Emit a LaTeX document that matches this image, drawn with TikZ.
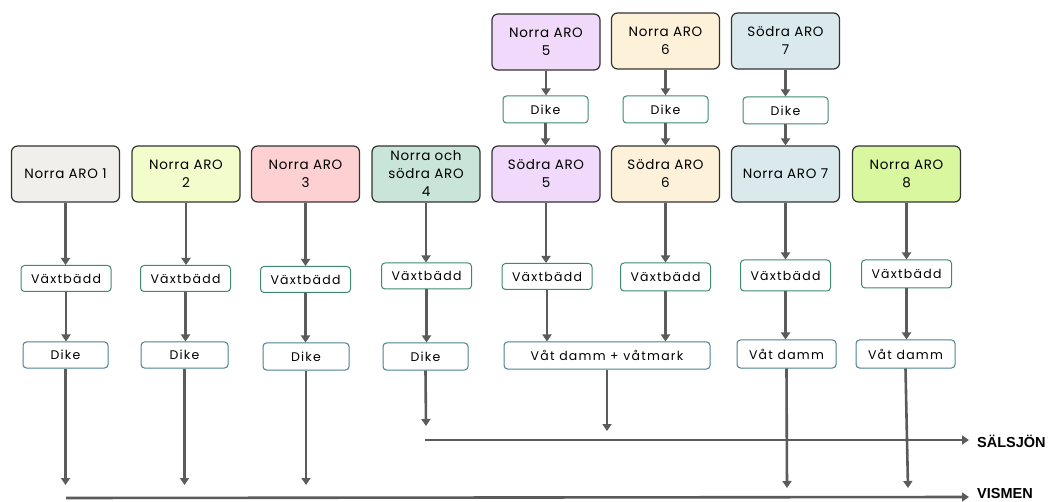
\documentclass[tikz,border=0pt]{standalone}
\usepackage{fontspec}
\setmainfont{Poppins}
\newfontfamily\bigfont[LetterSpace=5]{Poppins}
\newfontfamily\smfont[LetterSpace=10]{Poppins}
\newfontfamily\labfont{Liberation Sans}
\usetikzlibrary{arrows.meta}
\definecolor{lnc}{HTML}{5B5B5B}
\definecolor{bdc}{HTML}{333333}
\definecolor{grc}{HTML}{3E8A6C}
\definecolor{tlc}{HTML}{4A8290}
\definecolor{c1}{HTML}{F0EFEB}
\definecolor{c2}{HTML}{F3FCCB}
\definecolor{c3}{HTML}{FDD1D1}
\definecolor{c4}{HTML}{C9E5D9}
\definecolor{c5}{HTML}{F0D9FA}
\definecolor{c6}{HTML}{FEF1D9}
\definecolor{c7}{HTML}{DAEAEC}
\definecolor{c8}{HTML}{D8F79F}
\tikzset{
  big/.style={draw=bdc,line width=1.2pt,rounded corners=6pt,minimum width=108pt,minimum height=56pt,align=center,font=\bigfont\fontsize{13.5}{18}\selectfont,text=black,inner sep=2pt},
  gbox/.style={draw=grc,fill=white,line width=1pt,rounded corners=3.5pt,minimum width=90pt,minimum height=26pt,font=\smfont\fontsize{12.5}{14}\selectfont,text=black,inner sep=1pt},
  tbox/.style={gbox,draw=tlc},
  arr/.style={draw=lnc,line width=2.6pt,-{Triangle[length=7pt,width=9pt]}},
  lab/.style={font=\labfont\bfseries\fontsize{14.5}{16}\selectfont,anchor=west,inner sep=0pt}
}
\begin{document}
\begin{tikzpicture}[x=1pt,y=-1pt]
\useasboundingbox (0,0) rectangle (1049,502);
% top row
\node[big,fill=c5] (t5) at (546,42) {Norra ARO\\5};
\node[big,fill=c6] (t6) at (665.5,41) {Norra ARO\\6};
\node[big,fill=c7] (t7) at (785.5,41) {Södra ARO\\7};
\node[gbox,minimum width=85pt,minimum height=27pt] (d5) at (545.5,109.5) {Dike};
\node[gbox,minimum width=85pt,minimum height=27pt] (d6) at (665.5,109.5) {Dike};
\node[gbox,minimum width=85pt,minimum height=27pt] (d7) at (785.5,110.5) {Dike};
% main row
\node[big,fill=c1] (b1) at (65.5,174) {Norra ARO 1};
\node[big,fill=c2] (b2) at (186,174) {Norra ARO\\2};
\node[big,fill=c3] (b3) at (305.5,174) {Norra ARO\\3};
\node[big,fill=c4] (b4) at (426,174) {Norra och\\södra ARO\\4};
\node[big,fill=c5] (b5) at (546,174) {Södra ARO\\5};
\node[big,fill=c6] (b6) at (665.5,174) {Södra ARO\\6};
\node[big,fill=c7] (b7) at (785.5,174) {Norra ARO 7};
\node[big,fill=c8] (b8) at (906.5,174) {Norra ARO\\8};
% vaxtbadd
\node[gbox] (v1) at (66,278.5) {Växtbädd};
\node[gbox] (v2) at (185.5,278.5) {Växtbädd};
\node[gbox] (v3) at (305.5,279.5) {Växtbädd};
\node[gbox] (v4) at (426.5,276) {Växtbädd};
\node[gbox] (v5) at (547,276.5) {Växtbädd};
\node[gbox,minimum height=28pt] (v6) at (665.5,277) {Växtbädd};
\node[gbox,minimum height=31pt] (v7) at (785.5,275.5) {Växtbädd};
\node[gbox,minimum height=28pt] (v8) at (906.5,274) {Växtbädd};
% dike / vat damm
\node[tbox,minimum width=85pt] (k1) at (65.5,355) {Dike};
\node[tbox,minimum width=87pt] (k2) at (184.5,355) {Dike};
\node[tbox,minimum width=86pt,minimum height=27pt] (k3) at (306,356.5) {Dike};
\node[tbox,minimum width=85pt,minimum height=27pt] (k4) at (425.5,356.5) {Dike};
\node[tbox,minimum width=206pt,minimum height=27pt] (w56) at (607,355.5) {Våt damm + våtmark};
\node[tbox,minimum width=99pt,minimum height=28pt] (w7) at (786.5,354) {Våt damm};
\node[tbox,minimum width=99pt,minimum height=28pt] (w8) at (905.5,354) {Våt damm};
% end coordinates
\coordinate (e1) at (65.5,485);
\coordinate (e2) at (184.5,485);
\coordinate (e3) at (306,485);
\coordinate (e4) at (426,426);
\coordinate (e56) at (607,431);
\coordinate (e7) at (787,488);
\coordinate (e8) at (908,488);
\coordinate (ss) at (425,440);
\coordinate (se) at (969,440);
\coordinate (vs) at (66,498);
\coordinate (ve) at (969,497);
\node[lab] (sal) at (977,441) {SÄLSJÖN};
\node[lab] (vis) at (977,494) {VISMEN};
% connectors
\foreach \a/\b in {t5/d5,t6/d6,t7/d7,d5/b5,d6/b6,d7/b7,
  b1/v1,b2/v2,b3/v3,b4/v4,b5/v5,b6/v6,b7/v7,b8/v8,
  v1/k1,v2/k2,v3/k3,v4/k4,v7/w7,v8/w8}
  \draw[arr] (\a.south) -- (\a.south |- \b.north);
\draw[arr] (v5.south) -- (v5.south |- w56.north);
\draw[arr] (v6.south) -- (v6.south |- w56.north);
\draw[arr] (k1.south) -- (e1);
\draw[arr] (k2.south) -- (e2);
\draw[arr] (k3.south) -- (e3);
\draw[arr] (k4.south) -- (e4);
\draw[arr] (w56.south) -- (e56);
\draw[arr] (ss) -- (se);
\draw[arr] (w7.south) -- (e7);
\draw[arr] (w8.south) -- (e8);
\draw[arr] (vs) -- (ve);
\end{tikzpicture}
\end{document}
